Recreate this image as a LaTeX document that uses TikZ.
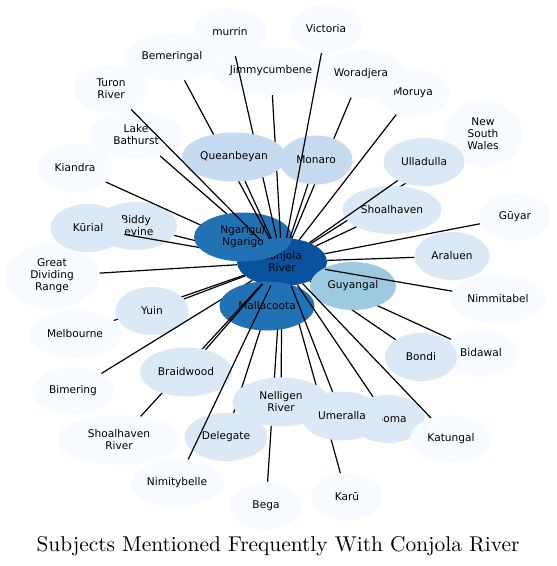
\documentclass[tikz,border=0pt]{standalone}
\usepackage{fontspec}
\newfontfamily\subjfont{DejaVu Sans}
\newfontfamily\titlefont[Extension=.otf]{lmroman10-regular}
\usepackage{tikz}
\usetikzlibrary{shapes.geometric}
\definecolor{cDeep}{HTML}{08519C}
\definecolor{cMid}{HTML}{2171B5}
\definecolor{cSky}{HTML}{9ECAE1}
\definecolor{cPale}{HTML}{C6DBEF}
\definecolor{cSoft}{HTML}{DBE9F6}
\definecolor{cLite}{HTML}{F7FBFF}
\pgfdeclarelayer{back}
\pgfsetlayers{back,main}

\begin{document}
\begin{tikzpicture}[x=1pt,y=-1pt]
\tikzstyle{subj}=[ellipse,inner sep=0pt,minimum width=73pt,minimum height=48pt,align=center,font=\subjfont\fontsize{10.6}{12}\selectfont]
\tikzstyle{lite}=[subj,fill=cLite]
\tikzstyle{soft}=[subj,fill=cSoft]
\tikzstyle{pale}=[subj,fill=cPale]
\tikzstyle{sky}=[subj,fill=cSky]
\tikzstyle{mid}=[subj,fill=cMid]
\tikzstyle{deep}=[subj,fill=cDeep]
\tikzstyle{link}=[black,line width=1.2pt]

\useasboundingbox (0,0) rectangle (557,566);

\node[deep,minimum width=90pt](conjola) at (282,262){Conjola\\River};

% outer ring
\node[lite,minimum width=95pt,minimum height=66pt](gdr) at (52,276){Great\\Dividing\\Range};
\node[lite,minimum width=75pt](kiandra) at (75,168){Kiandra};
\node[lite,minimum width=75pt](turon) at (111,89){Turon\\River};
\node[lite,minimum width=97pt](lakebathurst) at (136,135){Lake\\Bathurst};
\node[lite,minimum width=96pt](bemeringal) at (172,57){Bemeringal};
\node[lite](murrin) at (230,32){murrin};
\node[lite,minimum width=120pt](jimmycumbene) at (271,71){Jimmycumbene};
\node[lite](victoria) at (326,29){Victoria};
\node[lite](moruya) at (413,93){Moruya};
\node[lite,minimum width=90pt](woradjera) at (361,74){Woradjera};
\node[lite,minimum width=79pt,minimum height=68pt](nsw) at (483,134){New\\South\\Wales};
\draw [link] (conjola) -- (nsw);
\node[soft,minimum width=81pt](ulladulla) at (424,162){Ulladulla};
\node[soft,minimum width=99pt](shoalhaven) at (392,210){Shoalhaven};
\node[lite](guyar) at (515,217){Gūyar};
\node[soft,minimum width=75pt](araluen) at (452,256){Araluen};
\node[lite,minimum width=96pt](nimmitabel) at (498,299){Nimmitabel};
\node[lite,minimum width=72pt](bidawal) at (481,353){Bidawal};
\node[soft,minimum width=72pt](bondi) at (421,357){Bondi};
\node[lite](karu) at (347,497){Karū};
\draw [link] (conjola) -- (karu);
\node[soft](cooma) at (388,419){Cooma};
\node[lite,minimum width=82pt](katungal) at (451,439){Katungal};
\node[lite](bega) at (266,506){Bega};
\node[soft,minimum width=83pt](delegate) at (226,437){Delegate};
\node[lite,minimum width=96pt](nimitybelle) at (177,483){Nimitybelle};
\node[lite,minimum width=125pt,minimum height=50pt](shoalhavenriver) at (119,440){Shoalhaven\\River};
\node[lite,minimum width=82pt](bimering) at (73,391){Bimering};
\node[lite,minimum width=93pt](melbourne) at (75,334){Melbourne};
\node[soft,minimum width=82pt](biddy) at (136,226){Biddy\\Levine};
\node[soft,minimum width=75pt](kurial) at (88,228){Kūrial};

% inner ring, some links run under it
\draw [link] (conjola) -- (kiandra);
\draw [link] (conjola) -- (lakebathurst);
\draw [link] (conjola) -- (biddy);
\draw [link] (conjola) -- (kurial);
\node[mid,minimum width=98pt,minimum height=49pt](ngarigu) at (243,237){Ngarigu/\\Ngarigo};
\draw [link] (conjola) -- (bemeringal);
\draw [link] (conjola) -- (murrin);
\draw [link] (conjola) -- (jimmycumbene);
\node[pale,minimum width=104pt,minimum height=49pt](queanbeyan) at (234,157){Queanbeyan};
\draw [link] (conjola) -- (woradjera);
\node[pale,minimum height=49pt](monaro) at (316,160){Monaro};
\draw [link] (conjola) -- (bondi);
\draw [link] (conjola) -- (bidawal);
\node[sky,minimum width=86pt](guyangal) at (353,286){Guyangal};
\draw [link] (conjola) -- (melbourne);
\node[soft](yuin) at (152,311){Yuin};
\draw [link] (conjola) -- (delegate);
\draw [link] (conjola) -- (bega);
\node[soft,minimum width=97pt,minimum height=49pt](nelligen) at (281,402){Nelligen\\River};
\node[soft,minimum width=82pt,minimum height=49pt](umeralla) at (342,416){Umeralla};
\draw [link] (conjola) -- (nelligen);
\draw [link] (conjola) -- (bimering);
\node[mid,minimum width=95pt,minimum height=49pt](mallacoota) at (267,306){Mallacoota};
\draw [link] (conjola) -- (shoalhavenriver);
\node[soft,minimum width=92pt,minimum height=49pt](braidwood) at (186,372){Braidwood};

\begin{pgfonlayer}{back}
\draw [link] (conjola) -- (ngarigu);
\draw [link] (conjola) -- (mallacoota);
\draw [link] (conjola) -- (guyangal);
\end{pgfonlayer}

% links on top
\draw [link] (conjola) -- (turon);
\draw [link] (conjola) -- (queanbeyan);
\draw [link] (conjola) -- (monaro);
\draw [link] (conjola) -- (victoria);
\draw [link] (conjola) -- (moruya);
\draw [link] (conjola) -- (ulladulla);
\draw [link] (conjola) -- (shoalhaven);
\draw [link] (conjola) -- (guyar);
\draw [link] (conjola) -- (araluen);
\draw [link] (conjola) -- (nimmitabel);
\draw [link] (conjola) -- (gdr);
\draw [link] (conjola) -- (yuin);
\draw [link] (conjola) -- (braidwood);
\draw [link] (conjola) -- (cooma);
\draw [link] (conjola) -- (umeralla);
\draw [link] (conjola) -- (katungal);
\draw [link] (conjola) -- (nimitybelle);

\node[anchor=base,inner sep=0pt,font=\titlefont\fontsize{21.4}{26}\selectfont](title) at (278,551){Subjects Mentioned Frequently With Conjola River};
\end{tikzpicture}
\end{document}
